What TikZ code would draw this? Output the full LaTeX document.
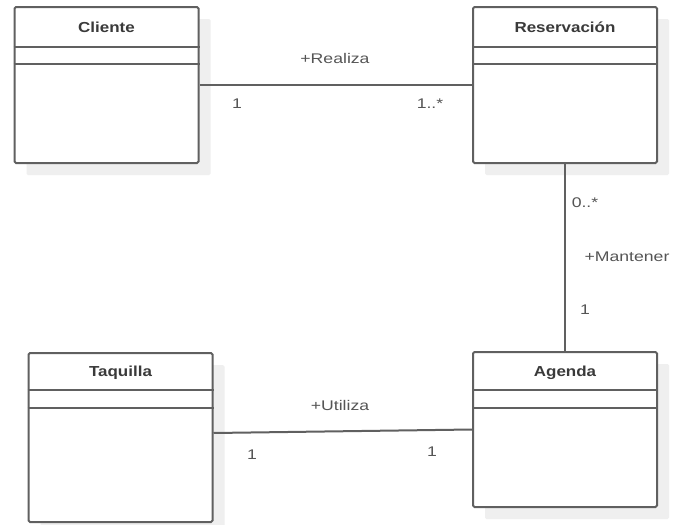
\documentclass[tikz,border=0pt]{standalone}
\usepackage{fontspec}
\usetikzlibrary{shadows}
\newfontfamily\labelfont[FakeStretch=1.26]{Liberation Sans}
\newfontfamily\titlefont[FakeStretch=1.17]{Liberation Sans}
\definecolor{umlline}{HTML}{606060}
\definecolor{umlshadow}{HTML}{EFEFEF}
\definecolor{umltext}{HTML}{3A3A3A}
\definecolor{roletext}{HTML}{555555}
\tikzset{
  classbox/.style={draw=umlline, line width=2pt, fill=white, rounded corners=1.5pt,
    minimum width=184pt, inner sep=0pt,
    general shadow={fill=umlshadow, draw=none, shadow xshift=12pt, shadow yshift=-12pt}},
  classtitle/.style={font=\titlefont\bfseries\fontsize{14.5pt}{16pt}\selectfont, text=umltext},
  sepline/.style={draw=umlline, line width=2pt},
  assoc/.style={draw=umlline, line width=2pt},
  role/.style={font=\labelfont\fontsize{14pt}{16pt}\selectfont, text=roletext, inner sep=0pt}
}
\begin{document}
\begin{tikzpicture}[x=1pt, y=-1pt]
  \fill[white] (0,0) rectangle (675,525);
  \useasboundingbox (0,0) rectangle (675,525);

  % class boxes
  \node[classbox, minimum height=156pt] (cli) at (106.5,85) {};
  \node[classbox, minimum height=156pt] (res) at (565,85) {};
  \node[classbox, minimum height=169pt] (taq) at (120.5,437.5) {};
  \node[classbox, minimum height=155pt] (age) at (565,429.5) {};

  % class names
  \node[classtitle] (clit) at ([yshift=-21.5pt]cli.north) {Cliente};
  \node[classtitle] (rest) at ([yshift=-21.5pt]res.north) {Reservación};
  \node[classtitle] (taqt) at ([yshift=-20.5pt]taq.north) {Taquilla};
  \node[classtitle] (aget) at ([yshift=-21.5pt]age.north) {Agenda};

  % compartment separators
  \foreach \c/\a/\b in {cli/41/58, res/41/58, taq/38/56, age/39/57}{
    \draw[sepline] ([yshift=-\a pt]\c.north west) -- ([yshift=-\a pt]\c.north east);
    \draw[sepline] ([yshift=-\b pt]\c.north west) -- ([yshift=-\b pt]\c.north east);
  }

  % associations
  \draw[assoc] (cli.east) -- (res.west);
  \draw[assoc] (res.south) -- (age.north);
  \draw[assoc] ([yshift=4.5pt]taq.east) -- (age.west);

  % association names and multiplicities
  \node[role] (realiza) at (335,58) {+Realiza};
  \node[role] (m1) at (237,104) {1};
  \node[role] (m2) at (430,104) {1..*};
  \node[role] (m3) at (585,203) {0..*};
  \node[role] (mantener) at (627,257) {+Mantener};
  \node[role] (m4) at (585,310) {1};
  \node[role] (utiliza) at (340,405) {+Utiliza};
  \node[role] (m5) at (252,455) {1};
  \node[role] (m6) at (432,452) {1};
\end{tikzpicture}
\end{document}
